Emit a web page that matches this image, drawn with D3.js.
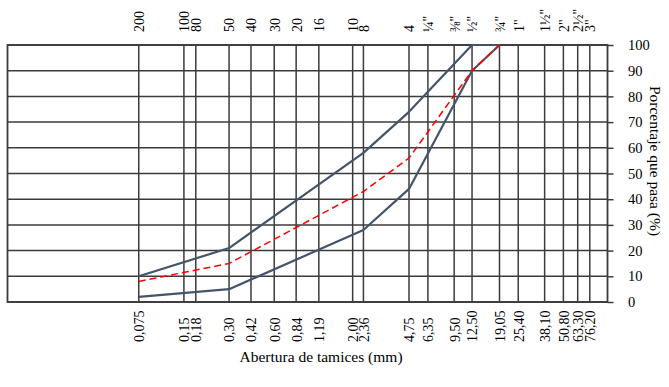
<!DOCTYPE html>
<html>
<head>
<meta charset="utf-8">
<script src="https://cdn.jsdelivr.net/npm/d3@7"></script>
<style>
  html, body { margin: 0; padding: 0; background: #fff; }
  svg, svg text { font-family: "Liberation Serif", "Tinos", "Times New Roman", "DejaVu Serif", serif !important; }
  svg { display: block; }
</style>
</head>
<body>
<svg id="chart" width="669" height="387"></svg>
<script>
// Sieve openings (mm) and their labels
const sieveSizes = [0.075, 0.15, 0.18, 0.30, 0.42, 0.60, 0.84, 1.19, 2.00, 2.36, 4.75, 6.35, 9.50, 12.50, 19.05, 25.40, 38.10, 50.80, 63.30, 76.20];
const sieveNames = ["200", "100", "80", "50", "40", "30", "20", "16", "10", "8", "4", "¼\"", "⅜\"", "½\"", "¾\"", "1\"", "1½\"", "2\"", "2½\"", "3\""];
const sieveMmLabels = ["0,075", "0,15", "0,18", "0,30", "0,42", "0,60", "0,84", "1,19", "2,00", "2,36", "4,75", "6,35", "9,50", "12,50", "19,05", "25,40", "38,10", "50,80", "63,30", "76,20"];
const yTicks = [0, 10, 20, 30, 40, 50, 60, 70, 80, 90, 100];

// Series: sieve size (mm) and percentage passing
const upperSizes = [0.075, 0.30, 2.36, 4.75, 12.50, 19.05];
const upperValues = [10, 21, 58, 74, 100, 100];
const lowerSizes = [0.075, 0.30, 2.36, 4.75, 12.50, 19.05];
const lowerValues = [2, 5, 28, 44, 90, 100];
const mixSizes = [0.075, 0.30, 2.36, 4.75, 12.50, 19.05];
const mixValues = [8, 15, 43, 56, 90, 100];

(function () {
const svg = d3.select("#chart");
const pLeft = 7.5, pRight = 607.5, pTop = 45, pBottom = 302;

const x = d3.scaleLog().domain([0.01, 100]).range([pLeft, pRight]);
const y = d3.scaleLinear().domain([0, 100]).range([pBottom, pTop]);

const gridColor = "#3b3b3b";

// vertical grid lines
svg.append("g").selectAll("line").data(sieveSizes).join("line")
  .attr("x1", d => x(d)).attr("x2", d => x(d))
  .attr("y1", pTop).attr("y2", pBottom)
  .attr("stroke", gridColor).attr("stroke-width", 1.5);

// horizontal grid lines
svg.append("g").selectAll("line").data(yTicks).join("line")
  .attr("x1", pLeft).attr("x2", pRight)
  .attr("y1", d => y(d)).attr("y2", d => y(d))
  .attr("stroke", gridColor).attr("stroke-width", 1.5);

// border
svg.append("rect")
  .attr("x", pLeft).attr("y", pTop)
  .attr("width", pRight - pLeft).attr("height", pBottom - pTop)
  .attr("fill", "none").attr("stroke", gridColor).attr("stroke-width", 1.8);

// right y axis
const yAxis = svg.append("g")
  .attr("transform", `translate(${pRight},0)`)
  .call(d3.axisRight(y).tickValues(yTicks).tickSize(6).tickPadding(14.5).tickFormat(d3.format("d")));
yAxis.select(".domain").remove();
yAxis.selectAll(".tick line").attr("stroke", gridColor).attr("stroke-width", 1.5);
yAxis.selectAll("text").attr("font-size", 14.5).attr("fill", "#000");

// top axis: sieve numbers
const topAxis = svg.append("g")
  .attr("transform", "translate(0,32)")
  .call(d3.axisTop(x).tickValues(sieveSizes).tickSize(0)
    .tickFormat((d, i) => sieveNames[i]));
topAxis.select(".domain").remove();
topAxis.selectAll("text")
  .attr("transform", "rotate(-90)")
  .attr("x", 0).attr("y", 0).attr("dy", "0.35em")
  .attr("text-anchor", "start")
  .attr("font-size", 14).attr("fill", "#000");

// bottom axis: openings in mm
const botAxis = svg.append("g")
  .attr("transform", "translate(0,342)")
  .call(d3.axisBottom(x).tickValues(sieveSizes).tickSize(0)
    .tickFormat((d, i) => sieveMmLabels[i]));
botAxis.select(".domain").remove();
botAxis.selectAll("text")
  .attr("transform", "rotate(-90)")
  .attr("x", 0).attr("y", 0).attr("dy", "0.35em")
  .attr("text-anchor", "start")
  .attr("font-size", 14).attr("fill", "#000");

// series lines
const line = d3.line().x(d => x(d[0])).y(d => y(d[1]));
const zip = (a, b) => a.map((v, i) => [v, b[i]]);

svg.append("path").datum(zip(upperSizes, upperValues))
  .attr("d", line).attr("fill", "none")
  .attr("stroke", "#44546A").attr("stroke-width", 2.2).attr("stroke-linejoin", "round");
svg.append("path").datum(zip(lowerSizes, lowerValues))
  .attr("d", line).attr("fill", "none")
  .attr("stroke", "#44546A").attr("stroke-width", 2.2).attr("stroke-linejoin", "round");
svg.append("path").datum(zip(mixSizes, mixValues))
  .attr("d", line).attr("fill", "none")
  .attr("stroke", "#FF0000").attr("stroke-width", 1.5).attr("stroke-dasharray", "7,4");

// axis titles
svg.append("text")
  .attr("x", 321).attr("y", 362)
  .attr("text-anchor", "middle").attr("font-size", 15.5).attr("fill", "#000")
  .text("Abertura de tamices (mm)");

svg.append("text")
  .attr("transform", "translate(655,161) rotate(90)")
  .attr("text-anchor", "middle").attr("dy", "0.35em")
  .attr("font-size", 15.5).attr("fill", "#000")
  .text("Porcentaje que pasa (%)");
})();
</script>
</body>
</html>
